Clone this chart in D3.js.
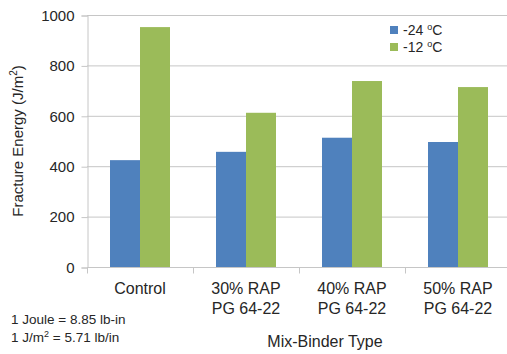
<!DOCTYPE html>
<html>
<head>
<meta charset="utf-8">
<script src="https://cdn.jsdelivr.net/npm/d3@7"></script>
<style>
  body { margin: 0; background: #fff; }
  text { font-family: "Liberation Sans", Arial, sans-serif; fill: #262626; }
</style>
</head>
<body>
<div id="chart"></div>
<script>
var categories = [["Control"], ["30% RAP", "PG 64-22"], ["40% RAP", "PG 64-22"], ["50% RAP", "PG 64-22"]];
var seriesNames = ["-24", "-12"];
var cold = [424, 457, 513, 496];
var warm = [952, 612, 738, 714];
var yTicks = [0, 200, 400, 600, 800, 1000];
var colors = ["#4f81bd", "#9bbb59"];

var width = 507, height = 354;
var plotLeft = 87, plotRight = 511, plotTop = 15, plotBottom = 267;

var svg = d3.select("#chart").append("svg")
    .attr("width", width)
    .attr("height", height);

var x = d3.scaleBand().domain(d3.range(categories.length)).range([plotLeft, plotRight]);
var inner = d3.scaleBand().domain([0, 1]).range([23, x.bandwidth() - 23]);
var y = d3.scaleLinear().domain([0, 1000]).range([plotBottom, plotTop]);

// gridlines
svg.append("g").selectAll("line")
    .data(yTicks.slice(1))
    .enter().append("line")
    .attr("x1", plotLeft).attr("x2", width)
    .attr("y1", function(d){ return y(d) + 0.5; })
    .attr("y2", function(d){ return y(d) + 0.5; })
    .attr("stroke", "#c6c6c6");

// bars
var groups = svg.append("g").selectAll("g")
    .data(categories.map(function(c, i){ return [cold[i], warm[i]]; }))
    .enter().append("g")
    .attr("transform", function(d, i){ return "translate(" + x(i) + ",0)"; });

groups.selectAll("rect")
    .data(function(d){ return d; })
    .enter().append("rect")
    .attr("x", function(d, j){ return inner(j); })
    .attr("width", inner.bandwidth())
    .attr("y", function(d){ return y(d); })
    .attr("height", function(d){ return y(0) - y(d); })
    .attr("fill", function(d, j){ return colors[j]; });

// y axis
var yAxis = svg.append("g")
    .attr("transform", "translate(" + (plotLeft + 0.5) + ",0.5)")
    .call(d3.axisLeft(y).tickValues(yTicks).tickFormat(d3.format("d")).tickSize(6).tickPadding(7));
yAxis.select(".domain").attr("stroke", "#c6c6c6");
yAxis.selectAll(".tick line").attr("stroke", "#c6c6c6");
yAxis.selectAll(".tick text").attr("font-size", "15px").attr("fill", "#262626")
    .attr("font-family", "Liberation Sans, Arial, sans-serif");

// x axis
var xAxis = svg.append("g")
    .attr("transform", "translate(0," + (plotBottom + 0.5) + ")");
xAxis.append("line")
    .attr("x1", plotLeft).attr("x2", width)
    .attr("stroke", "#c6c6c6");
xAxis.selectAll(".tk")
    .data(d3.range(categories.length + 1))
    .enter().append("line")
    .attr("x1", function(d){ return plotLeft + 0.5 + d * x.step(); })
    .attr("x2", function(d){ return plotLeft + 0.5 + d * x.step(); })
    .attr("y1", 0).attr("y2", 6)
    .attr("stroke", "#c6c6c6");

var labels = svg.append("g").selectAll("text")
    .data(categories)
    .enter().append("text")
    .attr("text-anchor", "middle")
    .attr("font-size", "16px")
    .attr("x", function(d, i){ return x(i) + x.bandwidth() / 2; })
    .attr("y", 294);
labels.selectAll("tspan")
    .data(function(d){ return d; })
    .enter().append("tspan")
    .attr("x", function(){ return d3.select(this.parentNode).attr("x"); })
    .attr("dy", function(d, k){ return k === 0 ? 0 : 20; })
    .text(function(d){ return d; });

// axis titles
svg.append("text")
    .attr("x", 325).attr("y", 347)
    .attr("text-anchor", "middle")
    .attr("font-size", "16px")
    .text("Mix-Binder Type");

var yt = svg.append("text")
    .attr("transform", "translate(23," + ((plotTop + plotBottom) / 2) + ") rotate(-90)")
    .attr("text-anchor", "middle")
    .attr("font-size", "15px");
yt.append("tspan").text("Fracture Energy (J/m");
yt.append("tspan").attr("font-size", "10px").attr("dy", -6).text("2");
yt.append("tspan").attr("dy", 6).text(")");

// legend
var legend = svg.append("g").attr("transform", "translate(390,22)");
seriesNames.forEach(function(s, i){
    var g = legend.append("g").attr("transform", "translate(0," + (i * 17) + ")");
    g.append("rect").attr("x", 0).attr("y", 4).attr("width", 8).attr("height", 8).attr("fill", colors[i]);
    var t = g.append("text").attr("x", 13).attr("y", 13).attr("font-size", "14px");
    t.append("tspan").text(s + " ");
    t.append("tspan").attr("font-size", "9px").attr("dy", -5).text("o");
    t.append("tspan").attr("dy", 5).text("C");
});

// notes
var n1 = svg.append("text").attr("x", 11).attr("y", 324).attr("font-size", "13.5px");
n1.text("1 Joule = 8.85 lb-in");
var n2 = svg.append("text").attr("x", 11).attr("y", 342).attr("font-size", "13.5px");
n2.append("tspan").text("1 J/m");
n2.append("tspan").attr("font-size", "9px").attr("dy", -5).text("2");
n2.append("tspan").attr("dy", 5).text(" = 5.71 lb/in");
</script>
</body>
</html>
